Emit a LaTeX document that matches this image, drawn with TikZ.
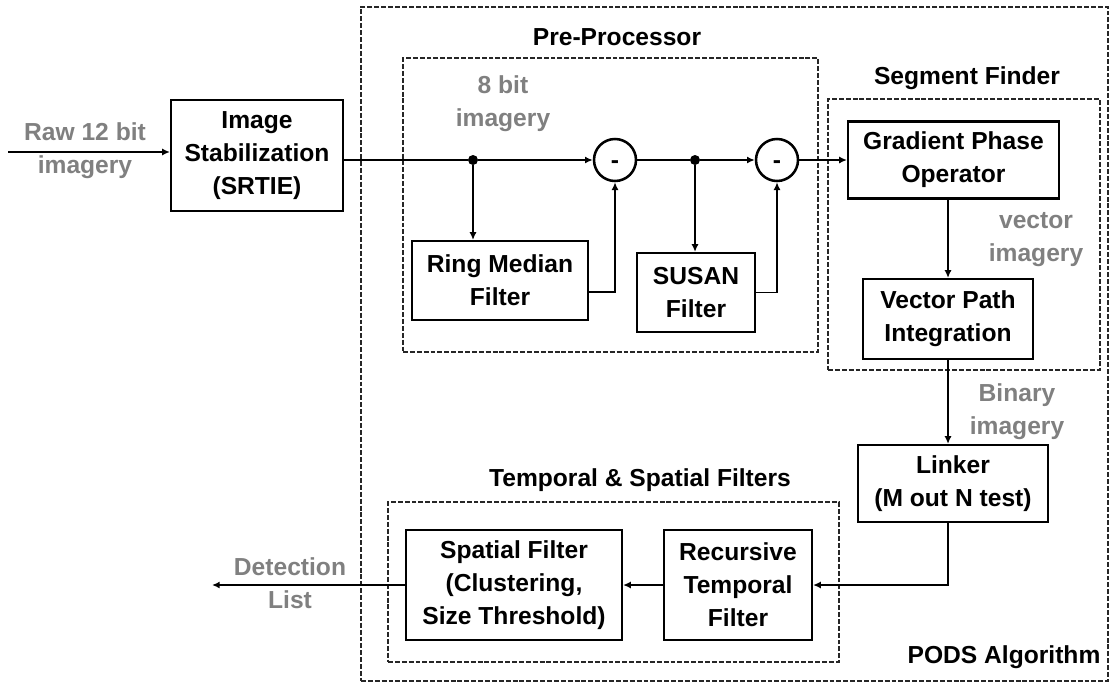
\documentclass[tikz,border=0pt]{standalone}
\usepackage{fontspec}
\setmainfont{Liberation Sans}
\usepackage{xcolor}
\usetikzlibrary{calc,positioning,arrows.meta}

\begin{document}
\begin{tikzpicture}[
    x=0.025cm, y=-0.025cm,
    every node/.style={font=\bfseries\fontsize{17.5}{23.4}\selectfont},
    sz/.style 2 args={minimum width=#1*0.025cm, minimum height=#2*0.025cm},
    blk/.style={rectangle, draw=black, line width=1.5pt, align=center, inner sep=0pt},
    grp/.style={rectangle, draw=black!85, line width=1pt,
                dash pattern=on 3.5pt off 1.4pt, inner sep=0pt},
    sub/.style={circle, draw=black, line width=1.8pt, inner sep=0pt,
                minimum size=1.05cm, label={[inner sep=0pt, yshift=-3.5pt]center:-}},
    jn/.style={circle, fill=black, inner sep=0pt, minimum size=0.25cm},
    gry/.style={text=black!50, align=center, inner sep=0pt},
    lbl/.style={inner sep=0pt},
    arr/.style={-{Latex[length=5.5pt,width=5pt]}, line width=1.2pt},
    ln/.style={line width=1.2pt}
]
\useasboundingbox (0,0) rectangle (1111,685);

% group frames
\node[grp, sz={747}{674}] (pods) at (734.5,344) {};
\node[grp, sz={415}{294}] (pre)  at (610.5,205) {};
\node[grp, sz={272}{271}] (seg)  at (964,234.5) {};
\node[grp, sz={451}{160}] (tsf)  at (613.5,582) {};

\node[lbl] (prelbl)  at (617,37)  {Pre-Processor};
\node[lbl] (seglbl)  at (967,78)  {Segment Finder};
\node[lbl] (tsflbl)  at (640,480) {Temporal \& Spatial Filters};
\node[lbl] (podslbl) at (1004,657) {PODS Algorithm};

% processing blocks
\node[blk, sz={172}{111}] (stab)   at (257,155.5) {Image\\Stabilization\\(SRTIE)};
\node[blk, sz={176}{79}]  (ring)   at (500,280.5) {Ring Median\\Filter};
\node[blk, sz={118}{79}]  (susan)  at (696,292.5) {SUSAN\\Filter};
\node[blk, sz={211}{77}]  (grad)   at (953.5,160) {Gradient Phase\\Operator};
\node[blk, sz={170}{80}]  (vpi)    at (948,319)   {Vector Path\\Integration};
\node[blk, sz={190}{77}]  (linker) at (953,483.5) {Linker\\(M out N test)};
\node[blk, sz={148}{110}] (recur)  at (738,585)   {Recursive\\Temporal\\Filter};
\node[blk, sz={216}{110}] (spat)   at (514,585)   {Spatial Filter\\(Clustering,\\Size Threshold)};

% subtractors and junctions
\node[sub] (sub1) at (615,160) {};
\node[sub] (sub2) at (777,160) {};
\node[jn]  (jn1)  at (473,160) {};
\node[jn]  (jn2)  at (695,160) {};

% data labels
\node[gry] (rawlbl) at (85,151)   {Raw 12 bit\\imagery};
\node[gry] (bitlbl) at (503,104)  {8 bit\\imagery};
\node[gry] (veclbl) at (1036,240) {vector\\imagery};
\node[gry] (binlbl) at (1017,412) {Binary\\imagery};
\node[gry] (detlbl) at (290,583)  {Detection\\List};

\coordinate (rawin)  at (8,152);
\coordinate (fb1)    at (615,292);
\coordinate (detout) at (212,585);

\draw[arr] (rawin) -- (rawin -| stab.west);
\draw[ln]  (stab.east |- jn1) -- (jn1);
\draw[arr] (jn1) -- (sub1);
\draw[arr] (jn1) -- (jn1 |- ring.north);
\draw[arr] (ring.east |- fb1) -- (fb1) -- (sub1.south);
\draw[ln]  (sub1) -- (jn2);
\draw[arr] (jn2) -- (sub2);
\draw[arr] (jn2) -- (jn2 |- susan.north);
\draw[arr] (susan.east) -| (sub2.south);
\draw[arr] (sub2) -- (sub2 -| grad.west);
\draw[arr] (vpi.north |- grad.south) -- (vpi.north);
\draw[arr] (vpi.south) -- (vpi.south |- linker.north);
\draw[arr] (vpi.south |- linker.south) |- (recur.east);
\draw[arr] (recur) -- (spat);
\draw[arr] (spat) -- (detout);
\end{tikzpicture}
\end{document}
